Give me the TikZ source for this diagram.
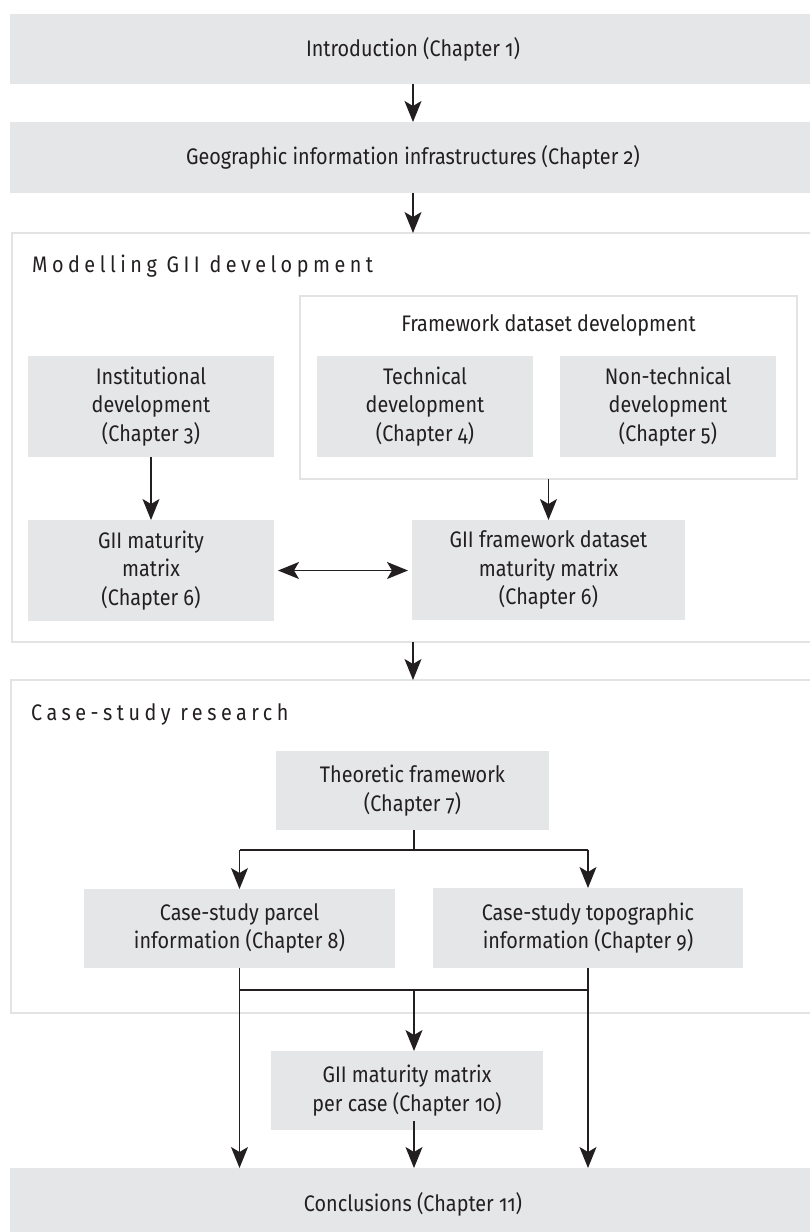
\documentclass[tikz,border=0pt]{standalone}
\usepackage{fontspec}
\setmainfont[Numbers=OldStyle,FakeStretch=0.88]{Fira Sans}
\newfontfamily\spacedfont[Numbers=OldStyle,FakeStretch=0.88,LetterSpace=20]{Fira Sans}
\usetikzlibrary{arrows.meta}

\definecolor{boxgray}{RGB}{229,230,232}
\definecolor{framegray}{RGB}{226,227,229}
\definecolor{ink}{RGB}{35,31,32}

\tikzset{
  gbox/.style={fill=boxgray, draw=none, inner sep=0pt, outer sep=0pt,
    align=center, text=ink, font=\fontsize{22.5}{28.5}\selectfont},
  frame/.style={draw=framegray, line width=2.5pt, inner sep=0pt, outer sep=0pt},
  heading/.style={anchor=base west, inner sep=0pt, text=ink,
    font=\spacedfont\fontsize{22.5}{28}\selectfont},
  title/.style={anchor=base, inner sep=0pt, text=ink,
    font=\fontsize{22.5}{28}\selectfont},
  link/.style={draw=ink, line width=1.3pt},
  tip/.tip={Stealth[length=21pt,width=17pt,inset=5pt]},
  arr/.style={link, -tip},
  dblarr/.style={link, tip-tip},
}

\begin{document}
\begin{tikzpicture}[x=1pt,y=-1pt]
\useasboundingbox (0,0) rectangle (810,1232);
\begin{scope}
\clip (0,0) rectangle (810,1232);

% top-level chapters
\node[gbox, minimum width=806, minimum height=70] (intro) at (413,49) {Introduction (Chapter 1)};
\node[gbox, minimum width=806, minimum height=71] (geo) at (413,157.5) {Geographic information infrastructures (Chapter 2)};

% modelling block
\node[frame, minimum width=818, minimum height=409] (model) at (421,437.5) {};
\node[heading] (modeltitle) at (32,272) {Modelling GII development};

\node[frame, minimum width=497, minimum height=183] (fw) at (548.5,387.5) {};
\node[title] (fwtitle) at (548.5,331) {Framework dataset development};

\node[gbox, minimum width=246, minimum height=101] (inst) at (151,406.5) {Institutional\\development\\(Chapter 3)};
\node[gbox, minimum width=216, minimum height=101] (tech) at (425,406.5) {Technical\\development\\(Chapter 4)};
\node[gbox, minimum width=216, minimum height=101] (nontech) at (668,406.5) {Non-technical\\development\\(Chapter 5)};

\node[gbox, minimum width=246, minimum height=101] (gmm) at (151,570.5) {GII maturity\\matrix\\(Chapter 6)};
\node[gbox, minimum width=273, minimum height=100] (gfm) at (548.5,570) {GII framework dataset\\maturity matrix\\(Chapter 6)};

% case-study block
\node[frame, minimum width=819, minimum height=333] (case) at (420.5,846.5) {};
\node[heading] (casetitle) at (31,720) {Case-study research};

\node[gbox, minimum width=273, minimum height=79] (theo) at (412.5,790.5) {Theoretic framework\\(Chapter 7)};
\node[gbox, minimum width=311, minimum height=79] (parcel) at (239.5,928.5) {Case-study parcel\\information (Chapter 8)};
\node[gbox, minimum width=310, minimum height=80] (topo) at (588,928) {Case-study topographic\\information (Chapter 9)};

\node[gbox, minimum width=272, minimum height=79] (per) at (407,1090.5) {GII maturity matrix\\per case (Chapter 10)};
\node[gbox, minimum width=806, minimum height=72] (concl) at (413,1204) {Conclusions (Chapter 11)};

% connectors
\coordinate (split) at (414,850);
\coordinate (merge) at (414,990);

\draw[arr] (intro.south) -- (geo.north);
\draw[arr] (geo.south) -- (geo.south |- model.north);
\draw[arr] (inst.south) -- (gmm.north);
\draw[arr] (fw.south) -- (gfm.north);
\draw[dblarr, shorten <=4pt, shorten >=4pt] (gmm.east) -- (gmm.east -| gfm.west);
\draw[arr] (model.south -| geo.south) -- (case.north -| geo.south);

\draw[link] (theo.south -| split) -- (split);
\draw[link] (split -| parcel.south) -- (split -| topo.south);
\draw[arr] (split -| parcel.south) -- (parcel.north);
\draw[arr] (split -| topo.south) -- (topo.north);

\draw[link] (merge -| parcel.south) -- (merge -| topo.south);
\draw[arr] (parcel.south) -- (concl.north -| parcel.south);
\draw[arr] (topo.south) -- (concl.north -| topo.south);
\draw[arr] (merge) -- (per.north -| merge);
\draw[arr] ([yshift=9pt]per.south -| merge) -- (concl.north -| merge);
\end{scope}
\end{tikzpicture}
\end{document}
